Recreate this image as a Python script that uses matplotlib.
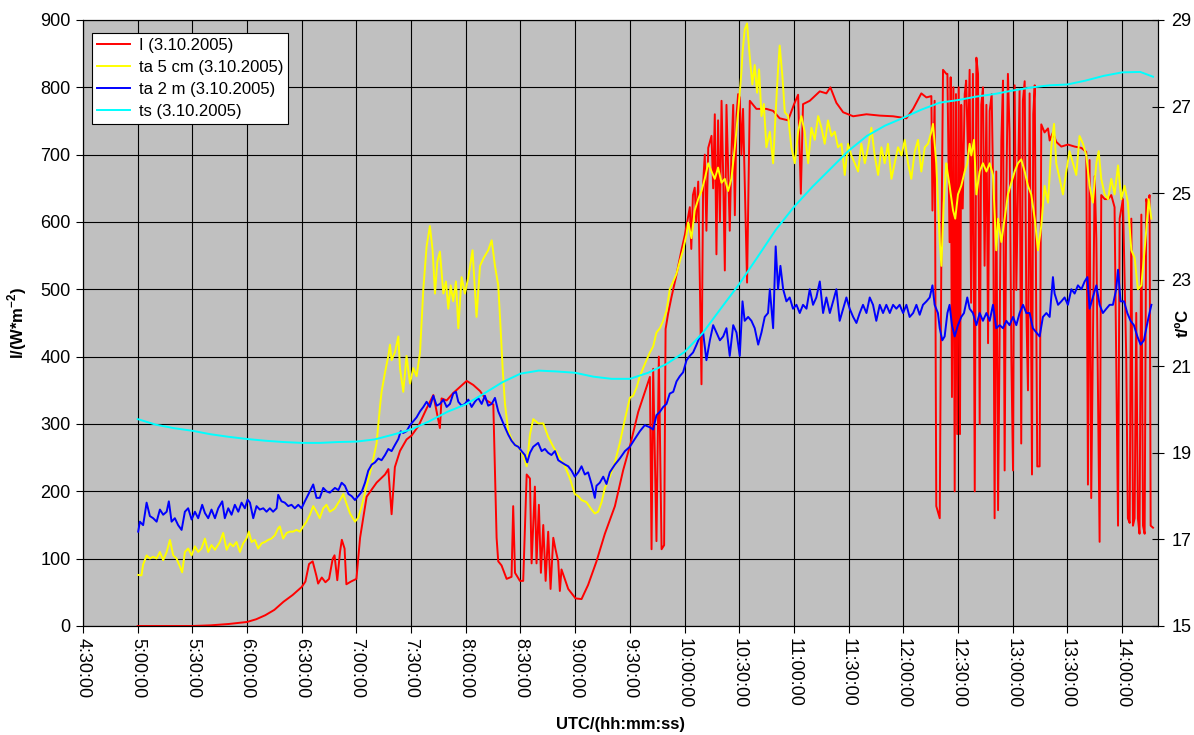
import matplotlib
matplotlib.use("Agg")
import matplotlib.pyplot as plt
from matplotlib.lines import Line2D

plt.rcParams['font.family'] = ['Liberation Sans', 'DejaVu Sans']
plt.rcParams['mathtext.fontset'] = 'custom'
plt.rcParams['mathtext.rm'] = 'Liberation Sans'
plt.rcParams['mathtext.bf'] = 'Liberation Sans:bold'

# time in minutes since midnight (UTC)
# I (3.10.2005) in W/m^2
red_pts = [
    (300, 0), (320, 0), (330, 0), (340, 1), (350, 3), (360, 6), (365, 10), (370, 16),
    (375, 24), (380, 36), (385, 46), (390, 58), (392, 66), (394, 92), (396, 96), (398, 75),
    (399, 63), (401, 72), (403, 65), (405, 70), (407, 100), (408, 105), (409.5, 68), (411, 110),
    (412, 128), (413.5, 115), (414.5, 62), (417, 66), (420, 70), (422, 131), (425.6, 192),
    (431.1, 213), (435.7, 225), (437.5, 233), (439.3, 166), (441.1, 236), (443.9, 260),
    (447.5, 277), (450.3, 283), (454, 297), (458.5, 323), (462.2, 343), (465.8, 294),
    (466.7, 338), (469.5, 335), (473.1, 346), (476.8, 355), (480.5, 364), (484.1, 358),
    (487.8, 349), (491.4, 335), (495.1, 329), (496.9, 131), (497.8, 96), (499.6, 90),
    (502.4, 70), (505.1, 73), (506, 178), (507, 79), (509.7, 67), (511.5, 67), (513.4, 225),
    (515.2, 219), (516.1, 93), (517.9, 207), (518.8, 93), (520.1, 180), (521.2, 79),
    (522.5, 150), (523.8, 67), (525.2, 140), (526.5, 55), (528, 131), (529.2, 114),
    (530.7, 96), (531.6, 52), (532.5, 84), (536.2, 55), (540.2, 41), (543.5, 40), (547.1, 61),
    (551.7, 96), (556.3, 137), (561.8, 178), (566.3, 231), (570.4, 271), (574.6, 318),
    (578.2, 347), (581, 370), (581.9, 114), (582.8, 382), (584.6, 126), (585.9, 400),
    (587.4, 114), (588.8, 120), (589.6, 441), (591, 464), (592.8, 488), (595.6, 522),
    (598.3, 558), (600.2, 581), (602.9, 622), (603.7, 560), (604.6, 640), (605.6, 651),
    (606.4, 600), (607.5, 660), (609.3, 359), (610.2, 657), (611.1, 700), (612, 587), (613, 710),
    (614.8, 728), (615.7, 650), (616.6, 760), (617.5, 552), (618.4, 751), (619.4, 600),
    (620.3, 780), (621.2, 669), (622.1, 528), (623, 774), (624.8, 587), (625.7, 700),
    (626.7, 774), (627.6, 610), (628.5, 757), (629.4, 790), (630.3, 785), (631.2, 700),
    (632.1, 768), (634.3, 510), (635.8, 780), (639.4, 768), (644.9, 768), (648.6, 765),
    (652.2, 754), (656.8, 751), (660.1, 775), (662.3, 789), (663.8, 642), (665, 775),
    (668.7, 780), (674.2, 794), (677.8, 791), (680, 800), (683.3, 777), (687, 763),
    (692.5, 757), (699.8, 760), (707.1, 758), (714.4, 757), (721.7, 754), (725.4, 768),
    (729.9, 791), (732.7, 785), (735.4, 787), (736, 617), (737.2, 780), (738.1, 178),
    (740, 160), (740.9, 558), (741.8, 826), (743.6, 820), (744.2, 820), (744.8, 700),
    (745.4, 570), (746, 815), (746.7, 340), (747.5, 800), (748.2, 200), (748.9, 790),
    (749.6, 285), (750.4, 800), (751.1, 285), (751.8, 774), (752.6, 620), (753.7, 790),
    (754.5, 810), (755.5, 700), (756.4, 826), (757.2, 480), (758.2, 820), (759.2, 200),
    (760.1, 844), (761, 820), (761.9, 300), (762.8, 774), (763.7, 800), (764.6, 535),
    (765.6, 774), (766.5, 420), (767.4, 765), (768.5, 790), (769.3, 650), (770.1, 160),
    (771, 675), (772, 172), (773.8, 721), (774.7, 810), (775.6, 231), (776.5, 640),
    (777.4, 820), (778.3, 733), (779.3, 395), (780.2, 231), (781.1, 803), (782, 499),
    (783.8, 797), (784.7, 271), (785.6, 780), (786.6, 809), (787.5, 470), (788.4, 350),
    (789.3, 791), (790.6, 225), (791.3, 760), (792.1, 803), (793.5, 237), (794.8, 237),
    (795.7, 745), (797.5, 733), (799.4, 739), (800.3, 721), (802.1, 733), (803.9, 719),
    (806.7, 712), (810.3, 715), (814, 712), (817.7, 710), (820.4, 704), (821.3, 210),
    (822.2, 692), (823.1, 190), (825, 668), (825.9, 575), (827.7, 125), (828.6, 640),
    (830.5, 634), (832.3, 634), (834.1, 640), (835.9, 622), (837.8, 149), (838.7, 605),
    (840.5, 634), (842.3, 400), (843.2, 160), (844.2, 153), (845.1, 605), (846, 149),
    (846.9, 160), (847.8, 465), (848.7, 160), (849.6, 137), (850.6, 611), (851.5, 149),
    (852.4, 137), (853.3, 634), (854.2, 623), (855.1, 640), (855.7, 149), (857, 146),
]

# ta 5 cm (3.10.2005) in deg C
yellow_pts = [
    (300.3, 16.18), (302.1, 16.17), (303, 16.42), (304.9, 16.63), (306.7, 16.56), (308.5, 16.60),
    (310.4, 16.56), (312.2, 16.71), (314, 16.52), (315.9, 16.71), (317.7, 16.99), (319.5, 16.63),
    (321.3, 16.56), (323.2, 16.37), (324.4, 16.24), (325.9, 16.71), (327.7, 16.79), (329.6, 16.63),
    (331.4, 16.84), (333.2, 16.71), (335, 16.79), (336.9, 17.02), (338.7, 16.71), (340.5, 16.87),
    (342.4, 16.76), (345.1, 16.94), (346.9, 17.15), (348.8, 16.76), (350.6, 16.91), (352.4, 16.84),
    (354.2, 16.94), (356.1, 16.71), (357.9, 16.91), (359.7, 17.02), (361, 17.18), (362.5, 16.94),
    (364.3, 16.99), (366.1, 16.79), (368, 16.91), (369.8, 16.94), (371.6, 16.99), (373.4, 17.02),
    (375.3, 17.10), (377.1, 17.26), (378, 17.30), (379.8, 17.02), (381.7, 17.15), (383.5, 17.18),
    (385.3, 17.18), (387.1, 17.22), (389, 17.18), (390.8, 17.30), (392.6, 17.41), (394.5, 17.57),
    (396.3, 17.77), (398.1, 17.64), (399.9, 17.49), (401.8, 17.72), (403.6, 17.80), (405.4, 17.64),
    (407.3, 17.69), (408.2, 17.72), (411, 17.91), (412.8, 18.05), (414.6, 17.82), (416.5, 17.60),
    (419.2, 17.41), (421, 17.50), (422.9, 17.77), (425.6, 18.24), (428.4, 18.69), (431.1, 19.23),
    (432.9, 20.06), (433.8, 20.41), (435.7, 20.86), (437.5, 21.24), (438.4, 21.50), (439.3, 21.14),
    (441.1, 21.32), (443, 21.69), (443.9, 20.96), (445.7, 20.41), (447.5, 21.24), (449.4, 20.60),
    (451.2, 20.96), (453, 20.77), (454.9, 21.32), (456.7, 22.78), (458.5, 23.77), (460.3, 24.24),
    (461.8, 23.68), (463.1, 22.68), (464.4, 23.42), (465.8, 23.65), (467.7, 22.68), (469.1, 22.96),
    (470.4, 22.33), (471.7, 22.87), (473.1, 22.50), (474.6, 22.96), (475.9, 21.88), (477.7, 23.06),
    (479.5, 22.68), (481.4, 23.06), (483.7, 23.68), (485.9, 22.14), (487.8, 23.32), (489.9, 23.51),
    (492.3, 23.68), (494.2, 23.91), (496, 23.32), (497.8, 22.87), (499.1, 21.88), (500.2, 20.96),
    (501.5, 20.13), (503.3, 19.50), (506, 19.23), (508.8, 19.14), (511.5, 18.95), (513.4, 18.69),
    (515.2, 19.42), (517, 19.78), (519.8, 19.68), (522.5, 19.68), (525.2, 19.37), (528, 19.14),
    (530.7, 18.95), (534.4, 18.69), (537.1, 18.41), (539.8, 18.05), (541.7, 18.00), (543.5, 17.91),
    (546.2, 17.86), (549, 17.69), (550.8, 17.60), (552.6, 17.64), (554.5, 17.86), (556.3, 18.19),
    (559, 18.45), (561.8, 18.78), (564.5, 19.23), (567.3, 19.78), (570, 20.27), (571.8, 20.32),
    (573.7, 20.51), (575.5, 20.77), (577.3, 20.96), (579.1, 21.14), (581, 21.32), (582.8, 21.46),
    (584.6, 21.78), (586.5, 21.88), (588.3, 22.05), (590.1, 22.28), (591.9, 22.78), (593.8, 22.96),
    (595.6, 23.14), (597.4, 23.42), (599.2, 23.68), (601.1, 24.05), (602, 24.32), (603.8, 23.96),
    (605.6, 24.60), (607.5, 24.86), (609.3, 25.05), (611.1, 25.33), (613, 25.69), (614.8, 25.50),
    (616.6, 25.33), (618.4, 25.59), (620.3, 25.24), (622.1, 25.33), (623.9, 25.05), (625.7, 25.33),
    (627.6, 26.06), (629.4, 26.87), (631.2, 27.79), (631.8, 28.24), (633, 28.78), (634.3, 28.92),
    (635.8, 28.14), (637.2, 27.51), (638.5, 27.96), (639.8, 27.32), (640.9, 27.86), (642.2, 26.78),
    (643.5, 27.06), (644.9, 26.06), (646.8, 26.42), (648.6, 25.69), (650, 26.87), (651.3, 27.86),
    (652.2, 28.41), (653.7, 27.69), (655, 26.87), (656.8, 26.78), (658.6, 26.06), (660.5, 25.69),
    (662.3, 26.42), (664.1, 26.78), (665.9, 26.42), (667.8, 25.69), (669.6, 26.51), (671.4, 26.23),
    (673.3, 26.78), (675.1, 26.51), (676.9, 26.14), (678.7, 26.68), (680.6, 26.32), (682.4, 26.42),
    (684.2, 26.06), (686.1, 26.14), (687.9, 25.42), (689.7, 26.14), (691.5, 25.87), (693.4, 25.69),
    (695.2, 25.50), (697, 26.14), (698.9, 25.69), (700.7, 26.06), (702.5, 26.51), (704.3, 25.87),
    (706.2, 25.42), (708, 26.06), (709.8, 25.69), (711.6, 26.14), (713.5, 25.33), (715.3, 25.69),
    (717.1, 26.06), (719, 25.87), (720.8, 26.23), (722.6, 25.69), (724.4, 25.33), (726.3, 25.97),
    (728.1, 26.23), (729.9, 25.50), (731.8, 26.06), (733.6, 26.14), (735.4, 26.42), (736.3, 26.60),
    (738.1, 25.69), (740, 23.87), (740.9, 23.32), (742.2, 24.78), (743.6, 25.69), (744.2, 25.50),
    (745.4, 25.17), (747.3, 24.60), (748.5, 24.41), (750, 24.97), (751.8, 25.17), (753.7, 25.50),
    (755.1, 25.69), (756.4, 26.14), (757.3, 25.87), (758.8, 26.23), (760.1, 24.97), (761.9, 25.50),
    (763.7, 25.69), (765.6, 25.50), (767.4, 25.69), (769.2, 25.42), (771, 23.68), (772, 24.41),
    (773.8, 23.87), (775.6, 24.41), (777.4, 24.97), (779.3, 25.24), (781.1, 25.50), (782.9, 25.69),
    (784.7, 25.78), (786.6, 25.50), (788.4, 25.17), (790.2, 24.97), (792.1, 24.41), (793.9, 23.68),
    (795.7, 24.24), (797.5, 25.17), (799.4, 24.78), (801.2, 26.06), (802.7, 26.60), (803.9, 25.69),
    (805.8, 25.33), (807.6, 24.97), (809.4, 25.50), (811.2, 25.97), (813.1, 25.69), (814.9, 25.42),
    (816.7, 26.32), (818.6, 26.14), (820.4, 25.87), (822.2, 25.17), (824, 24.78), (825.9, 25.69),
    (827.2, 25.97), (828.6, 25.33), (830.5, 24.97), (832.3, 24.86), (834.1, 25.33), (835.9, 24.97),
    (837.8, 25.64), (839.6, 24.86), (841.4, 25.17), (843.2, 24.78), (845.1, 23.68), (846.9, 23.51),
    (848.7, 22.78), (850.6, 22.87), (852, 23.51), (853.3, 24.15), (854.6, 24.86), (856.1, 24.41),
]

# ta 2 m (3.10.2005) in deg C
blue_pts = [
    (300.3, 17.18), (301.2, 17.41), (303, 17.33), (304.9, 17.85), (306.7, 17.54), (308.5, 17.49),
    (310.4, 17.41), (312.2, 17.69), (314, 17.57), (315.9, 17.64), (317.1, 17.88), (318.6, 17.41),
    (320.4, 17.49), (322.2, 17.33), (324.1, 17.22), (325.9, 17.64), (327.7, 17.72), (329.6, 17.46),
    (331.4, 17.64), (333.2, 17.49), (335.4, 17.80), (336.9, 17.61), (338.7, 17.49), (340.5, 17.69),
    (342.4, 17.49), (344.2, 17.72), (346.4, 17.88), (347.8, 17.49), (349.7, 17.72), (351.5, 17.57),
    (353.3, 17.80), (355.2, 17.64), (357, 17.85), (358.8, 17.72), (360.3, 17.92), (361.6, 17.85),
    (363.4, 17.49), (365.2, 17.77), (367, 17.69), (368.9, 17.72), (370.7, 17.64), (372.5, 17.72),
    (374.3, 17.64), (376.2, 17.72), (377.1, 18.03), (378.9, 17.88), (380.7, 17.85), (382.6, 17.77),
    (384.4, 17.80), (386.2, 17.72), (388.1, 17.80), (389.9, 17.72), (391.7, 17.88), (393.5, 18.03),
    (396.3, 18.27), (398.1, 17.96), (399.9, 17.96), (401.8, 18.19), (403.6, 18.11), (405.4, 18.08),
    (408.2, 18.19), (410.1, 18.14), (411.9, 18.31), (413.7, 18.24), (415.6, 18.05), (417.4, 18.00),
    (419.2, 17.91), (421, 18.00), (422.9, 18.10), (424.7, 18.31), (426.5, 18.59), (428.4, 18.73),
    (430.2, 18.78), (432, 18.87), (433.8, 18.83), (435.7, 18.95), (437.5, 19.09), (439.3, 19.04),
    (441.1, 19.18), (443, 19.32), (444.3, 19.50), (445.7, 19.46), (447.5, 19.50), (449.4, 19.64),
    (451.2, 19.73), (453, 19.82), (454.9, 19.96), (456.7, 20.06), (458.5, 20.18), (460.3, 20.06),
    (462.2, 20.32), (464, 20.09), (465.8, 20.13), (467.7, 20.23), (469.5, 20.06), (471.3, 20.13),
    (473.1, 20.37), (474.6, 20.41), (475.9, 20.18), (477.7, 20.09), (479.5, 20.13), (481.4, 20.23),
    (483.2, 20.06), (485, 20.18), (486.8, 20.27), (488.7, 20.13), (490.5, 20.32), (492.3, 20.09),
    (494.2, 20.13), (496, 20.27), (497.8, 19.96), (499.6, 19.78), (501.5, 19.59), (503.3, 19.42),
    (505.1, 19.28), (507, 19.18), (508.8, 19.14), (510.6, 19.04), (512.4, 18.95), (513.7, 18.78),
    (515.2, 19.00), (517, 19.14), (519.7, 19.23), (521.6, 19.04), (523.4, 19.09), (525.2, 19.00),
    (527, 18.95), (528.9, 19.04), (530.7, 18.83), (532.5, 18.78), (534.4, 18.73), (536.2, 18.69),
    (538, 18.59), (539.8, 18.45), (541.7, 18.55), (543.5, 18.69), (545.3, 18.50), (547.1, 18.55),
    (549, 18.28), (550.8, 17.96), (551.7, 18.24), (553.5, 18.31), (555.4, 18.45), (557.2, 18.28),
    (559, 18.55), (561.8, 18.73), (564.5, 18.87), (567.3, 19.04), (570, 19.14), (572.7, 19.32),
    (575.5, 19.50), (578.2, 19.64), (581, 19.59), (582.8, 19.54), (584.6, 19.87), (586.5, 19.95),
    (588.3, 20.06), (590.1, 20.13), (591.9, 20.37), (593.8, 20.41), (595.6, 20.65), (597.4, 20.77),
    (599.2, 20.86), (601.1, 21.14), (602.9, 21.24), (604.7, 21.32), (606.6, 21.50), (608.4, 21.69),
    (610.2, 21.78), (612, 21.14), (613.9, 21.60), (615.7, 21.95), (617.5, 21.78), (619.4, 21.60),
    (621.2, 21.69), (623, 21.88), (624.8, 21.24), (626.7, 21.95), (628.5, 21.78), (630.3, 21.24),
    (631.8, 22.50), (633, 22.05), (634.9, 22.14), (636.7, 22.05), (638.5, 21.88), (640.4, 21.50),
    (642.2, 21.78), (644, 22.14), (645.8, 22.23), (646.8, 22.78), (648.6, 21.88), (650, 23.77),
    (651.3, 22.78), (652.6, 23.32), (654.1, 22.78), (655.9, 22.50), (657.7, 22.59), (659.5, 22.33),
    (661.4, 22.42), (663.2, 22.23), (665, 22.42), (666.9, 22.33), (668.7, 22.78), (670.5, 22.42),
    (672.3, 22.59), (674.2, 22.96), (676, 22.23), (677.8, 22.59), (679.7, 22.23), (681.5, 22.50),
    (683.3, 22.78), (685.1, 22.05), (687, 22.33), (688.8, 22.59), (690.6, 22.33), (692.5, 22.14),
    (694.3, 22.00), (696.1, 22.23), (697.9, 22.42), (699.8, 22.23), (701.6, 22.59), (703.4, 22.42),
    (705.2, 22.05), (707.1, 22.42), (708.9, 22.23), (710.7, 22.42), (712.6, 22.23), (714.4, 22.42),
    (716.2, 22.33), (718, 22.42), (719.9, 22.23), (721.7, 22.42), (723.5, 22.14), (725.4, 22.23),
    (727.2, 22.42), (729, 22.19), (730.8, 22.42), (732.7, 22.50), (734.5, 22.59), (736, 22.87),
    (737.2, 22.42), (739, 22.23), (740, 21.88), (741.4, 21.60), (742.7, 21.69), (744.2, 22.23),
    (745.4, 22.42), (746.7, 21.95), (748.2, 21.69), (750, 21.95), (751.8, 22.14), (753.3, 22.23),
    (755.1, 22.59), (756.4, 22.33), (758.2, 22.23), (760.1, 21.95), (761.9, 22.23), (763.7, 22.05),
    (765.6, 22.23), (767.4, 22.05), (769.2, 22.42), (771, 21.88), (772.9, 21.95), (774.7, 21.88),
    (776.5, 22.05), (778.3, 21.95), (780.2, 22.14), (782, 21.95), (783.8, 22.23), (785.7, 22.42),
    (787.5, 22.23), (789.3, 22.23), (791.1, 21.88), (793, 21.78), (794.8, 21.69), (796.6, 22.14),
    (798.5, 22.23), (800.3, 22.14), (802.1, 23.06), (803, 22.68), (804.9, 22.42), (806.7, 22.50),
    (808.5, 22.59), (810.3, 22.42), (812.2, 22.78), (814, 22.68), (815.8, 22.87), (817.7, 22.78),
    (819.5, 22.96), (821, 23.06), (822.2, 22.33), (824, 22.59), (825.9, 22.87), (827.7, 22.42),
    (829.5, 22.23), (831.4, 22.33), (833.2, 22.42), (835, 22.42), (836.8, 22.78), (837.8, 23.23),
    (839.2, 22.50), (841.1, 22.50), (842.9, 22.23), (844.7, 22.05), (846.5, 21.95), (848.4, 21.69),
    (850.2, 21.50), (852, 21.60), (853.3, 21.88), (854.6, 22.14), (856.1, 22.42),
]

# ts (3.10.2005) in deg C
cyan_pts = [
    (300, 19.78), (310, 19.65), (320, 19.57), (330, 19.51), (340, 19.43), (350, 19.37),
    (360, 19.32), (370, 19.28), (380, 19.25), (390, 19.23), (400, 19.23), (410, 19.25),
    (420, 19.26), (430, 19.31), (440, 19.42), (450, 19.54), (460, 19.73), (470, 19.95),
    (480, 20.12), (490, 20.37), (500, 20.63), (510, 20.83), (520, 20.90), (530, 20.88),
    (540, 20.85), (550, 20.76), (560, 20.71), (570, 20.71), (580, 20.85), (590, 21.05),
    (600, 21.33), (610, 21.77), (620, 22.34), (630, 22.90), (640, 23.52), (650, 24.15),
    (660, 24.68), (670, 25.14), (680, 25.56), (690, 25.98), (700, 26.32), (710, 26.56),
    (720, 26.74), (730, 26.93), (740, 27.09), (750, 27.15), (760, 27.23), (770, 27.29),
    (780, 27.37), (790, 27.44), (800, 27.49), (810, 27.51), (820, 27.60), (830, 27.71),
    (840, 27.79), (850, 27.80), (857, 27.69),
]

labels = ['I (3.10.2005)', 'ta 5 cm (3.10.2005)', 'ta 2 m (3.10.2005)', 'ts (3.10.2005)']
colors = ['#ff0000', '#ffff00', '#0000ff', '#00ffff']

fig = plt.figure(figsize=(11.94, 7.35), dpi=100)
ax = fig.add_axes([0.0695, 0.1483, 0.9003, 0.8245])
ax.set_facecolor('#c0c0c0')
ax2 = ax.twinx()

lw = 1.4
t, v = zip(*sorted(red_pts))
ax.plot(t, v, color=colors[0], lw=lw)
for pts, c in zip([yellow_pts, blue_pts, cyan_pts], colors[1:]):
    t, v = zip(*sorted(pts))
    ax2.plot(t, v, color=c, lw=lw)

ax.set_xlim(270, 859.7)
ax.set_ylim(0, 900)
ax2.set_ylim(15, 29)

xt = list(range(270, 841, 30))
ax.set_xticks(xt)
ax.set_xticklabels(['%d:%02d:00' % (m // 60, m % 60) for m in xt],
                   rotation=270, ha='center', va='top')
ax.set_yticks(range(0, 901, 100))
ax2.set_yticks(range(15, 30, 2))

ax.grid(True, color='black', lw=0.8)
ax.tick_params(direction='out', length=5, width=0.8, labelsize=13, pad=4)
ax2.tick_params(direction='inout', length=9, width=0.8, labelsize=13, pad=5)
for a in (ax, ax2):
    for s in a.spines.values():
        s.set_linewidth(0.8)
        s.set_color('black')

ax.set_xlabel('UTC/(hh:mm:ss)', fontsize=12, fontweight='bold', labelpad=6)
ax.set_ylabel('I/(W*m$^{\\mathbf{-2}}$)', fontsize=12, fontweight='bold', labelpad=8)
ax2.set_ylabel('t/ºC', fontsize=12, fontweight='bold', rotation=90, va='center', ha='center')
ax2.yaxis.set_label_coords(1.024, 0.50)

handles = [Line2D([], [], color=c, lw=lw) for c in colors]
leg = ax2.legend(handles, labels, loc='upper left', bbox_to_anchor=(0.0084, 0.9785),
                 borderaxespad=0, fontsize=12, fancybox=False, framealpha=1,
                 edgecolor='black', borderpad=0.3, labelspacing=0.42,
                 handlelength=2.0, handletextpad=0.5)
leg.get_frame().set_linewidth(0.8)

fig.savefig('out.png', dpi=100)
